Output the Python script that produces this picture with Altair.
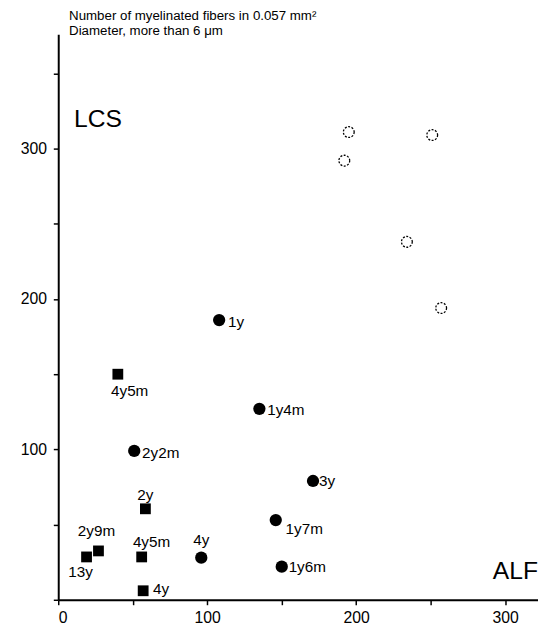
import altair as alt
import pandas as pd

# ---- data ----
circle_x = [108, 135, 51, 171, 146, 96, 150]
circle_y = [186, 127, 99, 79, 53, 28, 22]
circle_labels = ["1y", "1y4m", "2y2m", "3y", "1y7m", "4y", "1y6m"]

square_x = [40, 58.5, 27, 19, 56, 57]
square_y = [150, 60.5, 32.5, 28.5, 28.5, 6]
square_labels = ["4y5m", "2y", "2y9m", "13y", "4y5m", "4y"]

open_x = [195, 251, 192, 234, 257]
open_y = [311, 309, 292, 238, 194]

x_ticks = [0, 50, 100, 150, 200, 250, 300]
y_ticks = [0, 50, 100, 150, 200, 250, 300, 350]

title_lines = ["Number of myelinated fibers in 0.057 mm\u00b2", "Diameter, more than 6 \u03bcm"]
y_name = "LCS"
x_name = "ALF"

# ---- label placement (layout, not data) ----
circle_place = [(9, 2, "left"), (8, 1, "left"), (8, 2, "left"), (6, 0, "left"),
                (10, 9, "left"), (0, -18, "center"), (7, 0, "left")]
square_place = [(12, 17, "center"), (0, -14, "center"), (-2, -20, "center"),
                (-6, 15, "center"), (10, -15, "center"), (10, -2, "left")]

FONT = "Liberation Sans"

circles = pd.DataFrame({"x": circle_x, "y": circle_y, "label": circle_labels,
                        "idx": list(range(len(circle_x)))})
squares = pd.DataFrame({"x": square_x, "y": square_y, "label": square_labels,
                        "idx": list(range(len(square_x)))})
opens = pd.DataFrame({"x": open_x, "y": open_y})

xs = alt.Scale(domain=[0, 322], nice=False, zero=False)
ys = alt.Scale(domain=[0, 376], nice=False, zero=False)

X = alt.X("x:Q", scale=xs, axis=alt.Axis(
    values=x_ticks, title=None, grid=False, labelPadding=5,
    labelExpr="datum.value % 100 == 0 ? datum.label : ''"))
Y = alt.Y("y:Q", scale=ys, axis=alt.Axis(
    values=y_ticks, title=None, grid=False, labelPadding=7,
    labelExpr="datum.value % 100 == 0 && datum.value > 0 ? datum.label : ''"))

layers = []
layers.append(alt.Chart(circles).mark_point(shape="circle", filled=True, size=155,
                                             color="black", opacity=1).encode(x=X, y=Y))
layers.append(alt.Chart(squares).mark_point(shape="square", filled=True, size=120,
                                             color="black", opacity=1).encode(x="x:Q", y="y:Q"))
layers.append(alt.Chart(opens).mark_point(shape="circle", filled=False, size=120,
                                           stroke="black", strokeWidth=1.3,
                                           strokeDash=[2, 1.5], opacity=1).encode(x="x:Q", y="y:Q"))

for df, place in ((circles, circle_place), (squares, square_place)):
    for i, (dx, dy, al) in enumerate(place):
        layers.append(
            alt.Chart(df).transform_filter(alt.datum.idx == i)
            .mark_text(dx=dx, dy=dy, align=al, baseline="middle", font=FONT,
                       fontSize=15.5, color="black")
            .encode(x="x:Q", y="y:Q", text="label:N")
        )

ann = pd.DataFrame({"a": [0]})
layers.append(alt.Chart(ann).mark_text(align="left", baseline="alphabetic", font=FONT,
                                       fontSize=13.5, lineHeight=15, color="black")
              .encode(x=alt.value(11), y=alt.value(-14.5), text=alt.value(title_lines)))
layers.append(alt.Chart(ann).mark_text(align="left", baseline="alphabetic", font=FONT,
                                       fontSize=25, color="black")
              .encode(x=alt.value(16), y=alt.value(94), text=alt.value(y_name)))
layers.append(alt.Chart(ann).mark_text(align="right", baseline="alphabetic", font=FONT,
                                       fontSize=25, color="black")
              .encode(x=alt.value(487), y=alt.value(553), text=alt.value(x_name)))

chart = alt.layer(*layers).properties(
    width=487, height=574,
    autosize=alt.AutoSizeParams(type="none"),
    padding={"left": 51, "top": 22, "right": 0, "bottom": 30},
).configure_view(stroke=None).configure_axis(
    domainColor="black", domainWidth=2, tickColor="black", tickWidth=1.5,
    tickSize=5, labelFont=FONT, labelFontSize=16, labelColor="black",
)

chart.save("out.html", embed_options={"renderer": "svg", "actions": False})
